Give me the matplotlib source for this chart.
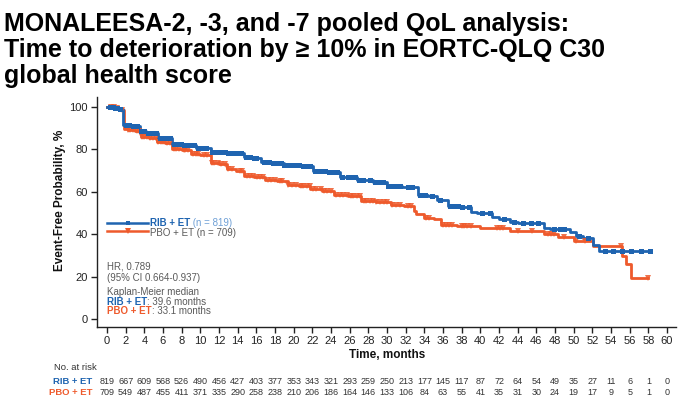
import numpy as np
import matplotlib
matplotlib.use("Agg")
import matplotlib.pyplot as plt
import matplotlib.transforms as mtransforms

plt.rcParams['font.family'] = ['Liberation Sans', 'DejaVu Sans']

W, H = 691, 412

# ---------------- data ----------------
title_lines = ["MONALEESA-2, -3, and -7 pooled QoL analysis:",
               "Time to deterioration by \u2265 10% in EORTC-QLQ C30",
               "global health score"]

rib_t = [0, 0.8, 1.3, 1.68, 2.6, 3.5, 4.2, 5.5, 7.0, 8.2, 9.5, 11.1, 12.8, 14.7, 15.6,
         16.5, 17.8, 19.0, 20.8, 22.1, 23.5, 25.0, 26.8, 28.5, 30.0, 31.6, 33.3, 34.4,
         35.4, 36.5, 37.8, 39.0, 39.6, 41.3, 42.0, 43.2, 44.0, 46.8, 47.5, 49.6, 50.2,
         51.0, 52.1, 52.7, 58.2]
rib_s = [100, 99.5, 99.0, 91.5, 90.8, 88.5, 87.4, 85.0, 82.6, 82.0, 80.6, 78.8, 78.2,
         76.3, 75.6, 74.0, 73.5, 72.4, 72.0, 69.6, 69.0, 67.0, 65.2, 64.6, 62.5, 62.0,
         58.6, 58.0, 56.0, 53.0, 52.5, 50.6, 49.8, 47.8, 47.0, 45.8, 45.0, 43.0, 42.4,
         40.8, 39.2, 38.0, 35.0, 32.2, 32.2]

pbo_t = [0, 0.8, 1.4, 1.85, 2.2, 3.0, 3.6, 4.5, 5.4, 6.2, 7.0, 8.0, 9.0, 10.0, 11.1,
         12.0, 12.9, 13.8, 14.7, 15.8, 16.9, 18.2, 19.4, 20.6, 21.8, 23.0, 24.3, 25.8,
         27.2, 28.8, 30.4, 31.8, 32.9, 33.1, 34.0, 35.0, 35.8, 37.5, 40.0, 43.2, 46.8,
         48.3, 50.0, 52.1, 55.2, 55.6, 56.1, 58.0]
pbo_s = [100, 99.3, 98.6, 89.3, 88.8, 88.4, 85.8, 85.2, 83.2, 82.8, 80.2, 79.6, 77.6,
         77.0, 73.6, 73.0, 70.4, 69.8, 67.4, 66.7, 65.2, 64.8, 63.0, 62.5, 61.0, 60.3,
         58.6, 58.0, 55.6, 55.0, 53.8, 53.2, 51.0, 49.6, 47.6, 47.0, 44.2, 43.7, 42.7,
         41.4, 40.0, 38.4, 36.8, 34.5, 29.5, 25.7, 19.1, 19.1]

rib_cens = [0.3, 0.6, 0.9, 1.1, 1.4, 2.0, 2.2, 2.4, 2.8, 3.0, 3.2, 3.6, 3.8, 4.0, 4.4,
            4.7, 4.9, 5.2, 5.7, 6.0, 6.3, 6.6, 6.8, 7.2, 7.5, 7.9, 8.3, 8.6, 9.0, 9.3,
            9.7, 9.9, 10.3, 10.6, 11.2, 11.5, 11.8, 12.2, 12.6, 13.0, 13.4, 13.7, 14.0,
            14.4, 14.9, 15.3, 15.8, 16.0, 16.8, 17.1, 17.4, 17.8, 18.2, 18.6, 19.0, 19.4,
            19.8, 20.2, 20.6, 21.0, 21.3, 21.7, 22.3, 22.6, 23.0, 23.4, 23.8, 24.3, 24.6,
            25.2, 25.8, 26.2, 26.6, 27.0, 27.4, 28.2, 28.7, 29.2, 29.6, 30.1, 30.6, 31.0,
            31.4, 32.2, 32.7, 33.5, 33.8, 34.1, 34.8, 35.7, 36.8, 37.2, 37.6, 38.0, 38.8,
            40.2, 41.0, 42.5, 43.6, 44.6, 45.4, 46.2, 47.9, 48.5, 49.0, 50.6, 51.5, 53.3,
            54.2, 55.2, 56.1, 57.2, 58.2]
pbo_cens = [0.4, 0.7, 1.1, 1.6, 2.3, 2.5, 2.8, 3.2, 3.4, 3.7, 4.0, 4.3, 4.6, 4.9, 5.2,
            5.5, 5.8, 6.0, 6.4, 6.7, 7.2, 7.4, 7.7, 8.2, 8.4, 8.7, 9.2, 9.5, 9.8, 10.4,
            10.7, 11.2, 11.5, 11.9, 12.2, 12.6, 13.0, 13.4, 14.2, 14.5, 15.0, 15.3, 15.6,
            16.1, 16.4, 16.7, 17.3, 17.6, 18.0, 18.5, 18.8, 19.4, 19.8, 20.2, 20.8, 21.0,
            21.4, 21.7, 22.1, 22.4, 22.9, 23.2, 23.6, 24.0, 24.5, 25.0, 25.3, 25.7, 26.1,
            26.4, 26.8, 27.1, 27.5, 27.8, 28.2, 28.5, 28.8, 29.3, 29.7, 30.0, 30.5, 31.0,
            31.4, 32.2, 32.6, 34.2, 34.5, 36.0, 36.3, 36.6, 37.0, 38.0, 38.3, 38.6, 39.0,
            41.8, 42.1, 42.4, 44.0, 45.5, 47.3, 47.6, 47.9, 49.0, 50.3, 51.2, 55.1, 58.0]

risk_times = list(range(0, 61, 2))
rib_risk = [819, 667, 609, 568, 526, 490, 456, 427, 403, 377, 353, 343, 321, 293, 259,
            250, 213, 177, 145, 117, 87, 72, 64, 54, 49, 35, 27, 11, 6, 1, 0]
pbo_risk = [709, 549, 487, 455, 411, 371, 335, 290, 258, 238, 210, 206, 186, 164, 146,
            133, 106, 84, 63, 55, 41, 35, 31, 30, 24, 19, 17, 9, 5, 1, 0]

yticks = [0, 20, 40, 60, 80, 100]

BLUE = '#1F64B0'
ORANGE = '#EE5A2C'
LBLUE = '#6FA0D6'
GRAY = '#5A5A5A'
DARK = '#333333'

def fx(x):
    return x / W

def fy(y):
    return 1 - y / H

def surv_at(times, surv, q):
    idx = np.searchsorted(np.asarray(times), np.asarray(q), side='right') - 1
    return np.asarray(surv)[idx]

# ---------------- figure ----------------
fig = plt.figure(figsize=(W / 100, H / 100), dpi=100)
ax = fig.add_axes([fx(97), fy(327), fx(676) - fx(97), fy(97) - fy(327)])
ax.set_xlim(-1.07, 60.96)
ax.set_ylim(-3.76, 104.5)

ax.step(rib_t, rib_s, where='post', color=BLUE, lw=2.0, zorder=3)
ax.step(pbo_t, pbo_s, where='post', color=ORANGE, lw=2.0, zorder=2)
ax.plot(rib_cens, surv_at(rib_t, rib_s, rib_cens), ls='none', marker='s', ms=3.6,
        color=BLUE, mew=0, zorder=4)
ax.plot(pbo_cens, surv_at(pbo_t, pbo_s, pbo_cens), ls='none', marker='v', ms=4.6,
        color=ORANGE, mew=0, zorder=3, alpha=0.85)

for s in ['top', 'right']:
    ax.spines[s].set_visible(False)
for s in ['left', 'bottom']:
    ax.spines[s].set_linewidth(1.0)
    ax.spines[s].set_color('#222222')
ax.set_xticks(risk_times)
ax.set_yticks(yticks)
ax.tick_params(axis='both', direction='out', length=4, width=1.0, colors='#222222',
               labelsize=8, labelcolor='#222222', pad=2.5)

fig.text(fx(387), fy(355), "Time, months", ha='center', va='center', fontsize=8.5,
         fontweight='bold', color='#111111')
fig.text(fx(60), fy(200), "Event-Free Probability, %", ha='center', va='center',
         rotation=90, fontsize=8.5, fontweight='bold', color='#111111')

# title
for line, yb in zip(title_lines, [30.7, 56.7, 82.7]):
    fig.text(fx(4), fy(yb), line, ha='left', va='baseline', fontsize=18,
             fontweight='bold', color='black')

# legend
fig.lines.append(plt.Line2D([fx(107), fx(148)], [fy(222.5), fy(222.5)], color=BLUE,
                            lw=1.8, transform=fig.transFigure))
fig.lines.append(plt.Line2D([fx(127.5)], [fy(222.5)], color=BLUE, marker='s', ms=3.0,
                            mew=0, transform=fig.transFigure))
fig.lines.append(plt.Line2D([fx(107), fx(148)], [fy(231), fy(231)], color=ORANGE,
                            lw=1.8, transform=fig.transFigure))
fig.lines.append(plt.Line2D([fx(127.5)], [fy(231)], color=ORANGE, marker='v', ms=4.0,
                            mew=0, transform=fig.transFigure))

fs = 7
t1 = fig.text(fx(150), fy(223.3), "RIB + ET", ha='left', va='center', fontsize=fs,
              fontweight='bold', color=BLUE)
ax.annotate(" (n = 819)", xy=(1, 0), xycoords=t1, va='bottom', ha='left',
            fontsize=fs, color=LBLUE)
fig.text(fx(150), fy(232.5), "PBO + ET (n = 709)", ha='left', va='center', fontsize=fs,
         color=GRAY)

fig.text(fx(107), fy(266.7), "HR, 0.789", ha='left', va='center', fontsize=fs, color=GRAY)
fig.text(fx(107), fy(278.3), "(95% CI 0.664-0.937)", ha='left', va='center', fontsize=fs,
         color=GRAY)
fig.text(fx(107), fy(291.7), "Kaplan-Meier median", ha='left', va='center', fontsize=fs,
         color=GRAY)
t2 = fig.text(fx(107), fy(301.7), "RIB + ET", ha='left', va='center', fontsize=fs,
              fontweight='bold', color=BLUE)
ax.annotate(": 39.6 months", xy=(1, 0), xycoords=t2, va='bottom', ha='left',
            fontsize=fs, color=GRAY)
t3 = fig.text(fx(107), fy(311.5), "PBO + ET", ha='left', va='center', fontsize=fs,
              fontweight='bold', color=ORANGE)
ax.annotate(": 33.1 months", xy=(1, 0), xycoords=t3, va='bottom', ha='left',
            fontsize=fs, color=GRAY)

# number at risk
fig.text(fx(54), fy(367), "No. at risk", ha='left', va='center', fontsize=6.8, color=DARK)
fig.text(fx(92.5), fy(381), "RIB + ET", ha='right', va='center', fontsize=6.8,
         fontweight='bold', color=BLUE)
fig.text(fx(92.5), fy(392.3), "PBO + ET", ha='right', va='center', fontsize=6.8,
         fontweight='bold', color=ORANGE)
trans = mtransforms.blended_transform_factory(ax.transData, fig.transFigure)
for t, r, p in zip(risk_times, rib_risk, pbo_risk):
    ax.text(t, fy(381), str(r), transform=trans, ha='center', va='center', fontsize=6.5,
            color=DARK, clip_on=False)
    ax.text(t, fy(392.3), str(p), transform=trans, ha='center', va='center', fontsize=6.5,
            color=DARK, clip_on=False)

fig.savefig("out.png", dpi=100)
